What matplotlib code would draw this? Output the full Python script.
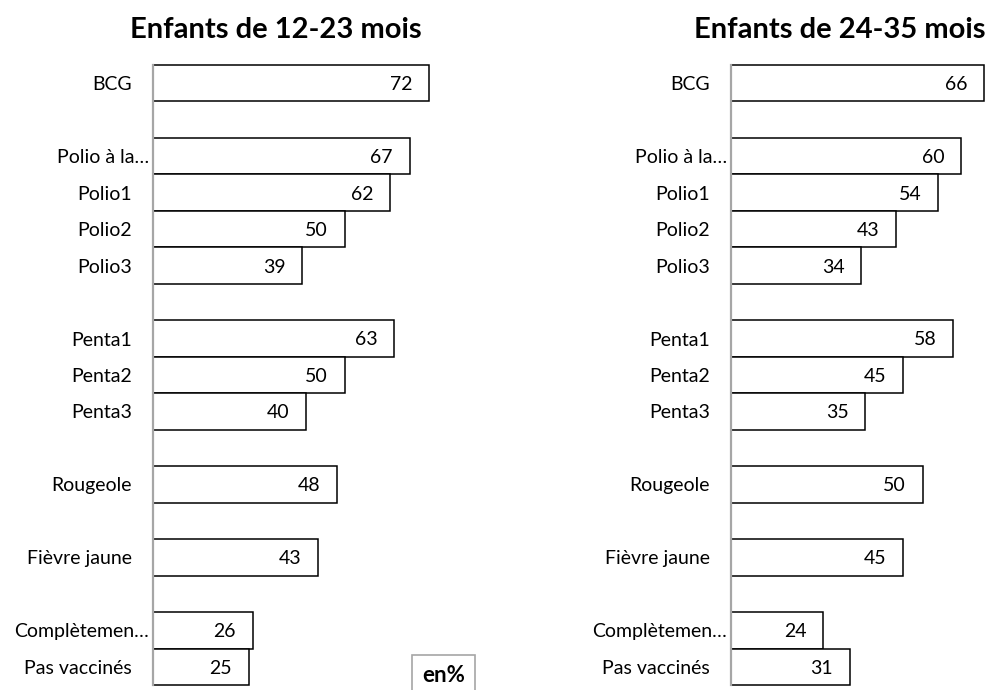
import matplotlib.pyplot as plt
import matplotlib.transforms as mtransforms
from matplotlib.patches import Rectangle

plt.rcParams['font.family'] = ['Lato', 'DejaVu Sans']

# Data
groups = [
    ["BCG"],
    ["Polio à la…", "Polio1", "Polio2", "Polio3"],
    ["Penta1", "Penta2", "Penta3"],
    ["Rougeole"],
    ["Fièvre jaune"],
    ["Complètemen…", "Pas vaccinés"],
]
vals_12_23 = [72, 67, 62, 50, 39, 63, 50, 40, 48, 43, 26, 25]
vals_24_35 = [66, 60, 54, 43, 34, 58, 45, 35, 50, 45, 24, 31]
titles = ["Enfants de 12-23 mois", "Enfants de 24-35 mois"]

# positions: one empty slot between groups
labels, pos = [], []
p = 0
for g in groups:
    for lab in g:
        labels.append(lab)
        pos.append(p)
        p += 1
    p += 1
n_slots = pos[-1] + 1

W, H = 992, 690
fig = plt.figure(figsize=(W / 100, H / 100), dpi=100)

px = 3.83  # pixels per percentage point
panels = [(153, 306, vals_12_23), (731, W - 731, vals_24_35)]
title_x = [276, 840]

for (x0, w, vals), t, tx in zip(panels, titles, title_x):
    ax = fig.add_axes([x0 / W, 5 / H, w / W, 620 / H])
    ax.barh(pos, vals, height=1.0, color="white", edgecolor="black",
            linewidth=1.1, clip_on=False, zorder=2)
    for y, v in zip(pos, vals):
        ax.annotate(str(v), (v, y), xytext=(-12, -5), textcoords="offset points",
                    ha="right", va="baseline", fontsize=14, zorder=3)
    ax.set_xlim(0, w / px)
    ax.set_ylim(n_slots - 0.5, -0.5)
    ax.set_yticks(pos)
    ax.set_yticklabels(labels, fontsize=14)
    ax.tick_params(axis="y", length=0, pad=15)
    ax.set_xticks([])
    for s in ["top", "right", "bottom"]:
        ax.spines[s].set_visible(False)
    ax.spines["left"].set_color("#a6a6a6")
    ax.spines["left"].set_linewidth(1.6)
    ax.spines["left"].set_zorder(4)
    for tl in ax.get_yticklabels():
        if tl.get_text().endswith("…"):
            tl.set_transform(tl.get_transform() +
                             mtransforms.ScaledTranslation(12 / 72, 0, fig.dpi_scale_trans))
    fig.text(tx / W, 1 - 30 / H, t, ha="center", va="center",
             fontsize=21, fontweight="bold")

# "en%" box
fig.patches.append(Rectangle((412 / W, -0.05), 63 / W, 0.05 + 35 / H,
                             transform=fig.transFigure, facecolor="white",
                             edgecolor="#a6a6a6", linewidth=1.2))
fig.text(444 / W, 1 - 682 / H, "en%", ha="center", va="baseline", fontsize=16,
         fontweight="bold")

plt.savefig("out.png", dpi=100)
